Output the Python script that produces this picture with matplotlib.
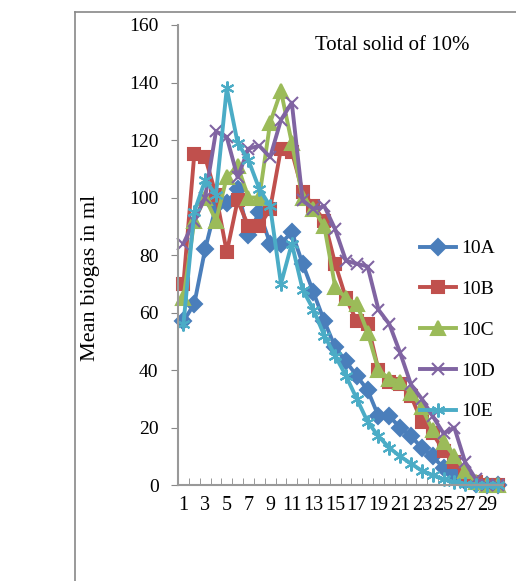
import matplotlib
matplotlib.use("Agg")
import matplotlib.pyplot as plt
from matplotlib.lines import Line2D

plt.rcParams['font.family'] = ['Liberation Serif', 'DejaVu Serif']

days = list(range(1, 31))
tick_labels = [str(d) if d % 2 == 1 else '' for d in days]

s10A = [57, 63, 82, 97, 98, 103, 87, 95, 84, 84, 88, 77, 67, 57, 48, 43, 38, 33, 24, 24,
        20, 17, 13, 10, 6, 4, 1.5, 0.5, 0, 0]
s10B = [70, 115, 114, 101, 81, 99, 90, 90, 96, 117, 116, 102, 97, 92, 77, 65, 57, 56, 40, 36,
        35, 31, 22, 18, 12, 8, 3, 1, 0, 0]
s10C = [65, 92, 100, 92, 107, 111, 100, 100, 126, 137, 119, 100, 96, 90, 69, 65, 63, 53, 40, 37,
        36, 32, 27, 19, 15, 10, 5, 1, 0, 0]
s10D = [84, 92, 100, 123, 121, 107, 117, 118, 114, 127, 133, 99, 96, 97, 89, 78, 77, 76, 61, 56,
        46, 35, 30, 24, 18, 20, 8, 2, 0, 0]
s10E = [56, 95, 106, 101, 138, 119, 113, 103, 97, 70, 84, 68, 61, 52, 45, 38, 30, 22, 17, 13,
        10, 7.5, 5, 3.5, 2, 1, 0.5, 0, 0, 0]

series = [
    ('10A', s10A, '#4A7EBB', 'D', 8),
    ('10B', s10B, '#C0504D', 's', 9),
    ('10C', s10C, '#9BBB59', '^', 10),
    ('10D', s10D, '#8064A2', 'x', 9),
    ('10E', s10E, '#4BACC6', (6, 2, 0), 10),
]

fig = plt.figure(figsize=(5.16, 5.81), dpi=100)
ax = fig.add_axes([0.345, 0.165, 0.63, 0.792])

for name, vals, col, mk, ms in series:
    ax.plot(days, vals, color=col, lw=2.8, marker=mk, markersize=ms,
            markeredgecolor=col, markerfacecolor=col, markeredgewidth=1.5, label=name,
            clip_on=False)

ax.set_xlim(0.5, 30.5)
ax.set_ylim(0, 160)
ax.set_yticks(range(0, 161, 20))
ax.set_xticks(days)
ax.set_xticklabels(tick_labels)
ax.set_xticks([d + 0.5 for d in range(0, 31)], minor=True)
ax.tick_params(axis='x', which='major', length=0, labelsize=14.5, pad=8)
ax.tick_params(axis='x', which='minor', length=5, color='#888888', direction='in')
ax.tick_params(axis='y', length=5, color='#888888', labelsize=14, pad=9)

for side in ['top', 'right']:
    ax.spines[side].set_visible(False)
for side in ['left', 'bottom']:
    ax.spines[side].set_color('#999999')
    ax.spines[side].set_linewidth(1.5)

ax.set_ylabel('Mean biogas in ml', fontsize=16)
ax.yaxis.set_label_coords(-0.24, 0.45)
ax.text(0.66, 0.955, 'Total solid of 10%', transform=ax.transAxes, fontsize=15,
        ha='center', va='center')

ax.legend(loc='center left', bbox_to_anchor=(0.745, 0.337), frameon=False, fontsize=14,
          handlelength=1.85, handletextpad=0.25, labelspacing=1.19, borderaxespad=0,
          borderpad=0)

# chart frame
fig.add_artist(Line2D([75 / 516, 75 / 516], [0, 1 - 12 / 581], transform=fig.transFigure,
                      color='#888888', lw=1.2))
fig.add_artist(Line2D([75 / 516, 1], [1 - 12 / 581, 1 - 12 / 581], transform=fig.transFigure,
                      color='#888888', lw=1.2))

fig.savefig('out.png', dpi=100)
